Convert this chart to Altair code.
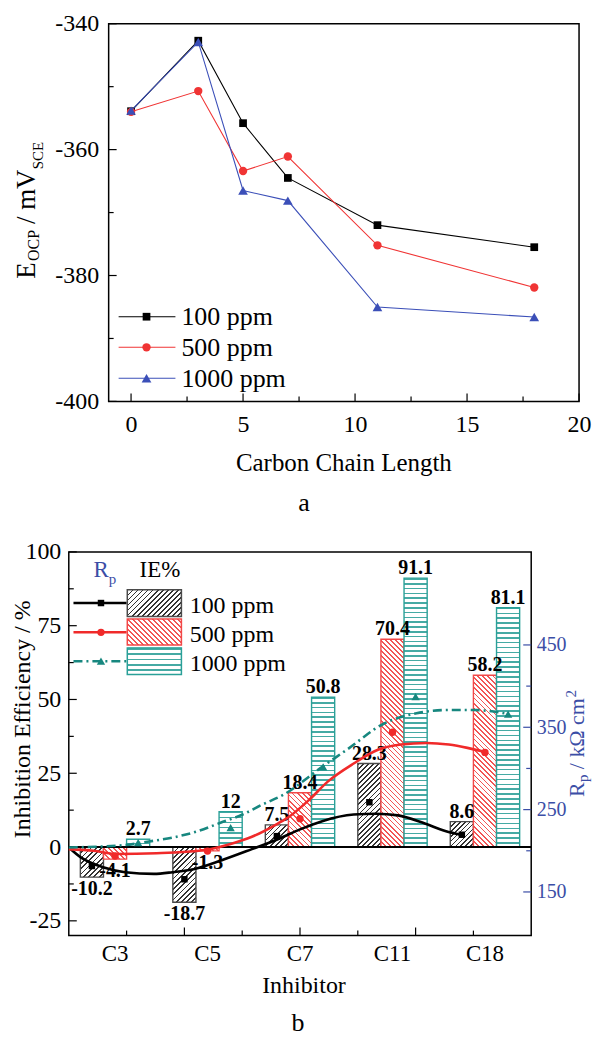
import altair as alt
import pandas as pd

FONT = "Liberation Serif, Times New Roman, serif"

# ---------------- panel a data ----------------
chain_length = [0, 3, 5, 7, 11, 18]
eocp_100 = [-353.9, -342.7, -355.8, -364.5, -372.0, -375.5]
eocp_500 = [-354.0, -350.7, -363.4, -361.1, -375.2, -381.9]
eocp_1000 = [-353.8, -342.9, -366.5, -368.1, -385.0, -386.6]
conc_labels = ["100 ppm", "500 ppm", "1000 ppm"]
a_x_major = [0, 5, 10, 15, 20]
a_x_minor = [2.5, 7.5, 12.5, 17.5]
a_y_major = [-400, -380, -360, -340]
a_y_minor = [-390, -370, -350]

# ---------------- panel b data ----------------
inhibitors = ["C3", "C5", "C7", "C11", "C18"]
ie_100 = [-10.2, -18.7, 7.5, 28.3, 8.6]
ie_500 = [-4.1, -1.3, 18.4, 70.4, 58.2]
ie_1000 = [2.7, 12, 50.8, 91.1, 81.1]
rp_100 = [181.5, 165.4, 217.8, 259.0, 219.5]
rp_500 = [193.6, 199.6, 239.0, 344.0, 319.5]
rp_1000 = [209.8, 228.0, 301.8, 387.3, 366.0]
# smoothed Rp trend curves (x in inhibitor-slot units, 0..5)
curve_100_u = [0, 0.13, 0.37, 0.61, 0.92, 1.12, 1.36, 1.64, 1.98, 2.26, 2.50, 2.74, 3.08, 3.32, 3.56, 3.83, 4.07, 4.26]
curve_100_rp = [204, 192, 180, 174, 172, 174, 178, 188, 202, 214, 226, 236, 244, 245, 243, 234, 224, 219]
curve_500_u = [0, 0.27, 0.51, 0.95, 1.47, 1.74, 1.98, 2.26, 2.39, 2.60, 2.80, 3.08, 3.35, 3.59, 3.87, 4.11, 4.31, 4.50]
curve_500_rp = [202, 200, 196, 197, 201, 208, 217, 233, 242, 262, 284, 306, 323, 329, 331, 329, 325, 320]
curve_1000_u = [0, 0.61, 0.85, 1.12, 1.40, 1.64, 1.88, 2.09, 2.32, 2.74, 3.01, 3.40, 3.76, 4.11, 4.38, 4.76]
curve_1000_rp = [204, 207, 211, 216, 224, 234, 244, 256, 268, 302, 323, 354, 367, 371, 371, 366]
b_y_major = [-25, 0, 25, 50, 75, 100]
b_y_minor = [-12.5, 12.5, 37.5, 62.5, 87.5]
b_rp_major = [150, 250, 350, 450]
b_rp_minor = [200, 300, 400]
b_x_major = [2, 4, 6]
b_x_minor = [1, 3, 5, 7]

# ---------------- styles ----------------
A_COLORS = ["#000000", "#f03434", "#3b4fb8"]
A_SHAPES = ["square", "circle", "triangle-up"]
A_SIZES = [60, 70, 95]
B_LINE = ["#000000", "#f02a2a", "#17877f"]
B_EDGE = ["#4a4a4a", "#f24848", "#2aa098"]
B_HATCH = ["#333333", "#f25555", "#45aaa4"]
B_KIND = ["/", "\\", "h"]
B_SIZES = [42, 55, 70]
B_DASH = [None, None, [9, 4, 2, 4]]
BLUE = "#3b4ea6"


def hatch(kind, w, h, color, spacing=3.6, frac=0.33):
    h = max(h, 1.0)
    if kind == "h":
        n = max(1, round(h / (spacing * 1.35)))
        coords = dict(x1=0, y1=0, x2=0, y2=1)
    else:
        a = (w + h) / (w * w + h * h)
        n = max(1, round((w + h) / (spacing * 2 ** 0.5)))
        if kind == "/":
            coords = dict(x1=0, y1=0, x2=a * w, y2=a * h)
        else:
            coords = dict(x1=0, y1=1, x2=a * w, y2=1 - a * h)
    stops = []
    for k in range(n):
        o0, o1, o2 = k / n, (k + frac) / n, (k + 1) / n
        stops += [
            {"offset": round(o0, 5), "color": color},
            {"offset": round(o1, 5), "color": color},
            {"offset": round(o1, 5), "color": "white"},
            {"offset": round(o2, 5), "color": "white"},
        ]
    return {"gradient": "linear", "stops": stops, **coords}


def one(**kw):
    return pd.DataFrame({k: [v] for k, v in kw.items()})


def text(t, x, y, size, color="black", angle=0, align="left", weight="normal"):
    return alt.Chart(one(t=t)).mark_text(
        font=FONT, fontSize=size, color=color, angle=angle, align=align,
        baseline="alphabetic", fontWeight=weight
    ).encode(text="t:N", x=alt.value(x), y=alt.value(y))


def anchor(x, y0, y1):
    return alt.Chart(one(t=0)).mark_rule(opacity=0).encode(
        x=alt.value(x), x2=alt.value(x), y=alt.value(y0), y2=alt.value(y1))


def spacer():
    return alt.Chart(one(t=0)).mark_rule(opacity=0, strokeWidth=0).encode(
        x=alt.value(0), x2=alt.value(0), y=alt.value(0), y2=alt.value(0)
    ).properties(width=1, height=1,
                 view=alt.ViewBackground(stroke="transparent", strokeWidth=0))


def xticks(vals, scale, axis, H, length, color="black"):
    return alt.Chart(pd.DataFrame({"v": vals})).mark_rule(color=color, strokeWidth=1.2).encode(
        x=alt.X("v:Q", scale=scale, axis=axis), y=alt.value(H), y2=alt.value(H - length))


def yticks(vals, scale, axis, x0, length, color="black"):
    return alt.Chart(pd.DataFrame({"v": vals})).mark_rule(color=color, strokeWidth=1.2).encode(
        y=alt.Y("v:Q", scale=scale, axis=axis), x=alt.value(x0), x2=alt.value(x0 + length))


lbl = dict(labelFont=FONT, labelOverlap=False, ticks=False, tickSize=0, domain=False,
           grid=False, title=None, labelExpr="'' + datum.value")

# ================= panel a =================
W1, H1 = 472, 379
sx_a = alt.Scale(domain=[-1, 20], nice=False, zero=False)
sy_a = alt.Scale(domain=[-400, -340], nice=False, zero=False)
ax_xa = alt.Axis(values=a_x_major, labelFontSize=24, labelPadding=11, labelFlush=False,
                 labelColor="black", **lbl)
ax_ya = alt.Axis(values=a_y_major, labelFontSize=24, labelPadding=10, labelColor="black", **lbl)

a_layers = []
for name, vals, col, shp, sz in zip(conc_labels, [eocp_100, eocp_500, eocp_1000],
                                    A_COLORS, A_SHAPES, A_SIZES):
    df = pd.DataFrame({"chain": chain_length, "E": vals})
    base = alt.Chart(df).encode(x=alt.X("chain:Q", scale=sx_a, axis=ax_xa),
                                y=alt.Y("E:Q", scale=sy_a, axis=ax_ya))
    a_layers += [base.mark_line(color=col, strokeWidth=1.1),
                 base.mark_point(shape=shp, filled=True, size=sz, color=col, opacity=1)]

a_layers += [
    xticks(a_x_major, sx_a, ax_xa, H1, 8), xticks(a_x_minor, sx_a, ax_xa, H1, 5),
    yticks(a_y_major, sy_a, ax_ya, 0, 8), yticks(a_y_minor, sy_a, ax_ya, 0, 5),
]

leg_a_y = [294, 324.7, 355.7]
for i, name in enumerate(conc_labels):
    ly = leg_a_y[i]
    d = one(label=name)
    a_layers += [
        alt.Chart(d).mark_rule(color=A_COLORS[i], strokeWidth=1.1).encode(
            x=alt.value(10), x2=alt.value(67), y=alt.value(ly)),
        alt.Chart(d).mark_point(shape=A_SHAPES[i], filled=True, size=A_SIZES[i],
                                color=A_COLORS[i], opacity=1).encode(x=alt.value(38), y=alt.value(ly)),
        alt.Chart(d).mark_text(font=FONT, fontSize=26, align="left", baseline="alphabetic",
                               color="black").encode(text="label:N", x=alt.value(73), y=alt.value(ly + 8.5)),
    ]

a_layers += [
    text("E", -74, 256, 27, angle=270),
    text("OCP", -70, 238, 16, angle=270),
    text("/ mV", -74, 201, 27, angle=270),
    text("SCE", -66, 146, 15, angle=270),
    text("Carbon Chain Length", 236, 448.5, 25, align="center"),
    text("a", 196, 489, 26, align="center"),
    anchor(-99, -13, 496),
]
chart_a = alt.layer(*a_layers).properties(width=W1, height=H1)

# ================= panel b =================
W2, H2 = 464, 385
sx_b = alt.Scale(domain=inhibitors, paddingInner=0.25, paddingOuter=0.125)
sxo_b = alt.Scale(domain=conc_labels, paddingInner=0, paddingOuter=0)
sy_ie = alt.Scale(domain=[-30, 100], nice=False, zero=False)
sy_rp = alt.Scale(domain=[97, 563], nice=False, zero=False)
sx_u = alt.Scale(domain=[0, 5], nice=False, zero=False)
sx_t = alt.Scale(domain=[0, 8], nice=False, zero=False)
ax_xb = alt.Axis(title=None, labelAngle=0, labelFont=FONT, labelFontSize=23, labelColor="black",
                 labelPadding=7, ticks=False, tickSize=0, domain=False, grid=False)
ax_yb = alt.Axis(values=b_y_major, labelFontSize=24, labelPadding=8, labelColor="black", **lbl)
ax_rp = alt.Axis(values=b_rp_major, orient="right", labelFontSize=20, labelPadding=5,
                 labelColor=BLUE, **lbl)

px_per_ie = H2 / 130.0
bar_w = W2 / 5 * 0.75 / 3
ies = [ie_100, ie_500, ie_1000]
rps = [rp_100, rp_500, rp_1000]

A = []
for s, name in enumerate(conc_labels):
    for k, inh in enumerate(inhibitors):
        v = ies[s][k]
        grad = hatch(B_KIND[s], bar_w, abs(v) * px_per_ie, B_HATCH[s])
        A.append(alt.Chart(one(inh=inh, conc=name, ie=v)).mark_bar(
            fill=grad, stroke=B_EDGE[s], strokeWidth=1.4).encode(
            x=alt.X("inh:N", scale=sx_b, axis=ax_xb),
            xOffset=alt.XOffset("conc:N", scale=sxo_b),
            y=alt.Y("ie:Q", scale=sy_ie, axis=ax_yb)))

ie_df = pd.DataFrame({
    "inh": inhibitors * 3,
    "conc": [c for c in conc_labels for _ in inhibitors],
    "ie": ie_100 + ie_500 + ie_1000,
})
ie_df["lab"] = [f"{v:g}" for v in ie_df["ie"]]
for sub, base_line, dy in [(ie_df[ie_df["ie"] >= 0], "alphabetic", -4),
                           (ie_df[ie_df["ie"] < 0], "top", 2)]:
    A.append(alt.Chart(sub).mark_text(font=FONT, fontSize=20, fontWeight="bold", color="black",
                                      baseline=base_line, dy=dy).encode(
        x=alt.X("inh:N", scale=sx_b, axis=ax_xb),
        xOffset=alt.XOffset("conc:N", scale=sxo_b),
        y=alt.Y("ie:Q", scale=sy_ie, axis=ax_yb),
        text="lab:N"))
A.append(alt.Chart(one(z=0)).mark_rule(color="black", strokeWidth=2).encode(
    y=alt.Y("z:Q", scale=sy_ie, axis=ax_yb)))
A += [yticks(b_y_major, sy_ie, ax_yb, 0, 8), yticks(b_y_minor, sy_ie, ax_yb, 0, 5)]
layer_A = alt.layer(*A)

B = []
for s, name in enumerate(conc_labels):
    df = pd.DataFrame({"inh": inhibitors, "conc": [name] * 5, "rp": rps[s]})
    B.append(alt.Chart(df).mark_point(shape=A_SHAPES[s], filled=True, size=B_SIZES[s],
                                      color=B_LINE[s], opacity=1).encode(
        x=alt.X("inh:N", scale=sx_b, axis=None),
        xOffset=alt.XOffset("conc:N", scale=sxo_b),
        y=alt.Y("rp:Q", scale=sy_rp, axis=None)))
layer_B = alt.layer(*B)

C = []
for s, (cu, cr) in enumerate([(curve_100_u, curve_100_rp), (curve_500_u, curve_500_rp),
                              (curve_1000_u, curve_1000_rp)]):
    kw = dict(color=B_LINE[s], strokeWidth=2.6, interpolate="monotone")
    if B_DASH[s]:
        kw["strokeDash"] = B_DASH[s]
    C.append(alt.Chart(pd.DataFrame({"u": cu, "rp": cr})).mark_line(**kw).encode(
        x=alt.X("u:Q", scale=sx_u, axis=None),
        y=alt.Y("rp:Q", scale=sy_rp, axis=ax_rp)))
C += [yticks(b_rp_major, sy_rp, ax_rp, W2, -8, BLUE), yticks(b_rp_minor, sy_rp, ax_rp, W2, -5, BLUE)]
layer_C = alt.layer(*C)

layer_D = alt.layer(xticks(b_x_major, sx_t, None, H2, 8), xticks(b_x_minor, sx_t, None, H2, 5))

E = []
leg_b_line_y = [51.3, 80.7, 109.7]
leg_b_box_y = [(38, 64.7), (67.3, 93.3), (96.3, 123)]
leg_b_text_y = [61.7, 90.7, 119.7]
for i, name in enumerate(conc_labels):
    d = one(label=name)
    kw = dict(color=B_LINE[i], strokeWidth=2.6)
    if B_DASH[i]:
        kw["strokeDash"] = B_DASH[i]
    y0, y1 = leg_b_box_y[i]
    E += [
        alt.Chart(d).mark_rule(**kw).encode(x=alt.value(4.7), x2=alt.value(58), y=alt.value(leg_b_line_y[i])),
        alt.Chart(d).mark_point(shape=A_SHAPES[i], filled=True, size=B_SIZES[i], color=B_LINE[i],
                                opacity=1).encode(x=alt.value(32.3), y=alt.value(leg_b_line_y[i])),
        alt.Chart(d).mark_rect(fill=hatch(B_KIND[i], 54.3, y1 - y0, B_HATCH[i]), stroke=B_EDGE[i],
                               strokeWidth=1.5).encode(
            x=alt.value(58.7), x2=alt.value(113), y=alt.value(y0), y2=alt.value(y1)),
        alt.Chart(d).mark_text(font=FONT, fontSize=24, align="left", baseline="alphabetic",
                               color="black").encode(text="label:N", x=alt.value(121.3),
                                                     y=alt.value(leg_b_text_y[i])),
    ]
E += [
    text("R", 24.7, 25, 23, color=BLUE),
    text("p", 40, 32, 15, color=BLUE),
    text("IE%", 71, 25, 23),
    text("Inhibition Efficiency / %", -39, 168, 24, angle=270, align="center"),
    text("R", 517, 246, 22, color=BLUE, angle=270),
    text("p", 521, 231, 15, color=BLUE, angle=270),
    text("/ kΩ cm", 517, 218, 22, color=BLUE, angle=270),
    text("2", 509, 146, 15, color=BLUE, angle=270),
    text("Inhibitor", 236, 443, 24, align="center"),
    text("b", 230, 481, 26, align="center"),
    anchor(-59, -32, 482),
    anchor(525, -32, 482),
]
layer_E = alt.layer(*E)

chart_b = alt.layer(layer_A, layer_B, layer_C, layer_D, layer_E).resolve_scale(
    x="independent", y="independent").properties(width=W2, height=H2)

# a tiny invisible spacer in front of each panel lets each panel sit by its own full bounds
chart = alt.vconcat(alt.hconcat(spacer(), chart_a, spacing=0),
                    alt.hconcat(spacer(), chart_b, spacing=0),
                    spacing=0).configure_view(stroke="black", strokeWidth=1.5).properties(padding=0)

chart.save("out.html", embed_options={"renderer": "svg", "actions": False})
